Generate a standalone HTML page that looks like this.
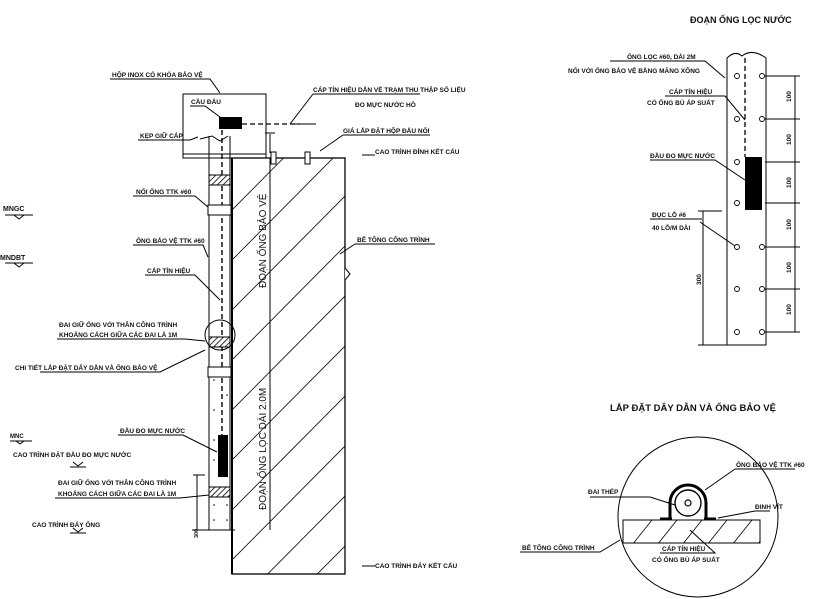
<!DOCTYPE html>
<html><head><meta charset="utf-8"><style>
html,body{margin:0;padding:0;background:#fff;overflow:hidden;width:821px;height:599px}
svg{display:block}
text{font-family:"Liberation Sans",sans-serif;font-weight:bold;fill:#111;font-size:6.5px}
</style></head><body>
<svg width="821" height="599" viewBox="0 0 821 599" xmlns="http://www.w3.org/2000/svg">
<defs>
<clipPath id="wall"><rect x="232" y="158" width="113" height="416"/></clipPath>
<clipPath id="slab"><rect x="623" y="520" width="137" height="23"/></clipPath>
<pattern id="hb" width="4" height="4" patternUnits="userSpaceOnUse" patternTransform="rotate(45)"><rect width="4" height="4" fill="#fff"/><line x1="0" y1="0" x2="0" y2="4" stroke="#000" stroke-width="1.6"/></pattern>
</defs>
<g stroke="#000" fill="none" stroke-width="1">
<rect x="183" y="94" width="83" height="64"/>
<line x1="183" y1="154" x2="266" y2="154"/>
<rect x="232" y="158" width="113" height="416" stroke-width="1.3"/>
<line x1="232" y1="158" x2="232" y2="574" stroke-width="2"/>
<line x1="270" y1="158" x2="270" y2="530"/>
<g clip-path="url(#wall)" stroke-width="0.8">
<path d="M232 210 L345 96 M232 260 L345 146 M232 310 L345 196 M232 360 L345 246 M232 410 L345 296 M232 460 L345 346 M232 510 L345 396 M232 560 L345 446 M232 610 L345 496 M232 660 L345 546 M232 710 L345 596"/>
</g>
<path d="M345 268 L350 274 L345 280" fill="#fff"/>
<rect x="271" y="152" width="5" height="12" fill="#fff"/><rect x="305" y="152" width="5" height="12" fill="#fff"/>
<line x1="209" y1="136" x2="209" y2="530"/>
<line x1="230" y1="136" x2="230" y2="530"/>
<path d="M200 139 L212 136 L220 141 L228 136"/>
<line x1="222" y1="130" x2="222" y2="435" stroke-dasharray="5,3" stroke-width="1.4"/>
<rect x="209" y="175" width="21" height="10" fill="url(#hb)"/>
<rect x="209" y="337" width="21" height="10" fill="url(#hb)"/>
<rect x="209" y="487" width="21" height="10" fill="url(#hb)"/>
<rect x="208" y="205" width="23" height="10" fill="#fff"/>
<rect x="208" y="367" width="23" height="10" fill="#fff"/>
<circle cx="220" cy="335" r="15"/>
<line x1="193" y1="475" x2="205" y2="475"/><line x1="197" y1="475" x2="197" y2="530"/><line x1="192" y1="530" x2="235" y2="530"/>
<line x1="242" y1="124" x2="300" y2="124" stroke-dasharray="5,3" stroke-width="1.3"/>
<line x1="290" y1="124" x2="316" y2="124"/>
<line x1="270" y1="134" x2="270" y2="153"/><line x1="265" y1="133" x2="275" y2="133"/>
<path d="M110 79 L210 79 L220 93"/>
<path d="M190 106 L205 106 L220 117"/>
<path d="M138 140 L190 140 L198 137"/>
<path d="M133 196 L195 196 L208 207"/>
<path d="M133 245 L203 245 L208 257"/>
<path d="M145 275 L195 275 L220 300"/>
<path d="M57 339 L185 339 L205 341"/>
<path d="M40 372 L160 372 L205 350"/>
<path d="M118 435 L183 435 L217 452"/>
<path d="M55 498 L180 498 L209 495"/>
<path d="M313 94 L420 94 M313 94 L290 124"/>
<path d="M343 135 L430 135 M343 135 L320 151"/>
<path d="M355 244 L435 244 M355 244 L340 254"/>
<path d="M5 215 L33 215 M14 215 L19 219 L24 215"/>
<path d="M5 263 L33 263 M14 263 L19 267 L24 263"/>
<path d="M10 441 L32 441 M16 441 L20 444 L24 441"/>
<path d="M70 467 L86 467 M73 462 L78 466 L83 462"/>
<path d="M70 533 L86 533 M73 528 L78 532 L83 528"/>
<path d="M362 155 L375 155"/><path d="M362 566 L375 566"/>
<path d="M727 345 L727 58 Q735 50 742 56 Q752 48 766 58 L766 345 Z"/>
<line x1="745" y1="58" x2="745" y2="157" stroke-dasharray="5,3" stroke-width="1.3"/>
<g stroke-width="0.9">
<circle cx="737" cy="76" r="2.5"/><circle cx="762" cy="76" r="2.5"/>
<circle cx="737" cy="119" r="2.5"/><circle cx="762" cy="119" r="2.5"/>
<circle cx="737" cy="162" r="2.5"/>
<circle cx="737" cy="203" r="2.5"/>
<circle cx="737" cy="247" r="2.5"/><circle cx="762" cy="247" r="2.5"/>
<circle cx="737" cy="289" r="2.5"/><circle cx="762" cy="289" r="2.5"/>
<circle cx="737" cy="332" r="2.5"/><circle cx="762" cy="332" r="2.5"/>
</g>
<line x1="795" y1="76" x2="795" y2="332"/>
<path d="M765 76 L800 76 M765 119 L800 119 M765 162 L800 162 M765 203 L800 203 M765 247 L800 247 M765 289 L800 289 M765 332 L800 332"/>
<line x1="703" y1="211" x2="703" y2="345"/><path d="M698 211 L722 211 M698 345 L727 345"/>
<path d="M610 61 L705 61 L725 78"/>
<path d="M665 96 L725 96 L745 120"/>
<path d="M650 160 L715 160 L745 180"/>
<path d="M650 219 L702 219 M700 222 L735 246"/>
<circle cx="698" cy="517" r="80"/>
<rect x="623" y="520" width="137" height="23"/>
<g clip-path="url(#slab)" stroke-width="0.8"><path d="M620 560 L660 510 M645 560 L685 510 M670 560 L710 510 M695 560 L735 510 M720 560 L760 510 M745 560 L785 510"/></g>
<path d="M670 519 L670 503 A18 18 0 0 1 706 503 L706 519" stroke-width="3"/>
<circle cx="688" cy="503" r="13" stroke-width="1.4"/>
<circle cx="688" cy="503" r="3" stroke-width="1.2"/>
<path d="M660 519 L672 519 M704 519 L716 519" stroke-width="3"/>
<path d="M735 469 L795 469 M735 469 L705 490"/>
<path d="M590 497 L650 497 L675 505"/>
<path d="M755 511 L770 511 M755 511 L718 518"/>
<path d="M520 552 L600 552 L620 540"/>
<path d="M660 553 L715 553 L690 530"/>
</g>
<rect x="219" y="117" width="23" height="12" fill="#000"/>
<rect x="218" y="435" width="10" height="42" fill="#000"/>
<rect x="745" y="157" width="17" height="53" fill="#000"/>
<g fill="#000"><circle cx="214" cy="380" r="0.8"/><circle cx="227" cy="395" r="0.8"/><circle cx="214" cy="410" r="0.8"/><circle cx="214" cy="440" r="0.8"/><circle cx="214" cy="460" r="0.8"/><circle cx="214" cy="505" r="0.8"/><circle cx="227" cy="505" r="0.8"/><circle cx="214" cy="520" r="0.8"/><circle cx="227" cy="520" r="0.8"/></g>
<text x="112" y="77">HỘP INOX CÓ KHÓA BẢO VỆ</text>
<text x="191" y="104">CẦU ĐẤU</text>
<text x="140" y="138">KẸP GIỮ CÁP</text>
<text x="136" y="194">NỐI ỐNG TTK #60</text>
<text x="136" y="243">ỐNG BẢO VỆ TTK #60</text>
<text x="147" y="273">CÁP TÍN HIỆU</text>
<text x="59" y="327">ĐAI GIỮ ỐNG VỚI THÂN CÔNG TRÌNH</text>
<text x="59" y="337">KHOẢNG CÁCH GIỮA CÁC ĐAI LÀ 1M</text>
<text x="15" y="370">CHI TIẾT LẮP ĐẶT DÂY DẪN VÀ ỐNG BẢO VỆ</text>
<text x="120" y="433">ĐẦU ĐO MỰC NƯỚC</text>
<text x="13" y="457">CAO TRÌNH ĐẶT ĐẦU ĐO MỰC NƯỚC</text>
<text x="58" y="485">ĐAI GIỮ ỐNG VỚI THÂN CÔNG TRÌNH</text>
<text x="58" y="496">KHOẢNG CÁCH GIỮA CÁC ĐAI LÀ 1M</text>
<text x="32" y="527">CAO TRÌNH ĐÁY ỐNG</text>
<text x="3" y="211" style="font-size:7px">MNGC</text>
<text x="0" y="260" style="font-size:7px">MNDBT</text>
<text x="10" y="438" style="font-size:6px">MNC</text>
<text x="313" y="92">CÁP TÍN HIỆU DẪN VỀ TRẠM THU THẬP SỐ LIỆU</text>
<text x="355" y="107">ĐO MỰC NƯỚC HỒ</text>
<text x="343" y="133">GIÁ LẮP ĐẶT HỘP ĐẤU NỐI</text>
<text x="375" y="154">CAO TRÌNH ĐỈNH KẾT CẤU</text>
<text x="357" y="242">BÊ TÔNG CÔNG TRÌNH</text>
<text x="375" y="568">CAO TRÌNH ĐÁY KẾT CẤU</text>
<text style="font-size:5.5px" transform="translate(198 538) rotate(-90)">300</text>
<text transform="translate(266 288) rotate(-90)" style="font-size:10px;font-weight:normal">ĐOẠN ỐNG BẢO VỆ</text>
<text transform="translate(266 510) rotate(-90)" style="font-size:10px;font-weight:normal">ĐOẠN ỐNG LỌC DÀI 2.0M</text>
<text x="690" y="23" style="font-size:9px">ĐOẠN ỐNG LỌC NƯỚC</text>
<text x="627" y="59">ỐNG LỌC #60, DÀI 2M</text>
<text x="568" y="73">NỐI VỚI ỐNG BẢO VỆ BẰNG MĂNG XÔNG</text>
<text x="669" y="94">CÁP TÍN HIỆU</text>
<text x="647" y="105">CÓ ỐNG BÙ ÁP SUẤT</text>
<text x="650" y="158">ĐẦU ĐO MỰC NƯỚC</text>
<text x="652" y="217">ĐỤC LỖ #6</text>
<text x="652" y="230">40 LỖ/M DÀI</text>
<g style="font-size:5px;font-weight:normal">
<text transform="translate(791 102) rotate(-90)">100</text>
<text transform="translate(791 145) rotate(-90)">100</text>
<text transform="translate(791 188) rotate(-90)">100</text>
<text transform="translate(791 230) rotate(-90)">100</text>
<text transform="translate(791 273) rotate(-90)">100</text>
<text transform="translate(791 315) rotate(-90)">100</text>
<text transform="translate(701 285) rotate(-90)">300</text>
</g>
<text x="610" y="411" style="font-size:9.5px">LẮP ĐẶT DÂY DẪN VÀ ỐNG BẢO VỆ</text>
<text x="736" y="467">ỐNG BẢO VỆ TTK #60</text>
<text x="588" y="494">ĐAI THÉP</text>
<text x="755" y="509">ĐINH VÍT</text>
<text x="522" y="550">BÊ TÔNG CÔNG TRÌNH</text>
<text x="662" y="551">CÁP TÍN HIỆU</text>
<text x="652" y="562">CÓ ỐNG BÙ ÁP SUẤT</text>
</svg>
</body></html>
